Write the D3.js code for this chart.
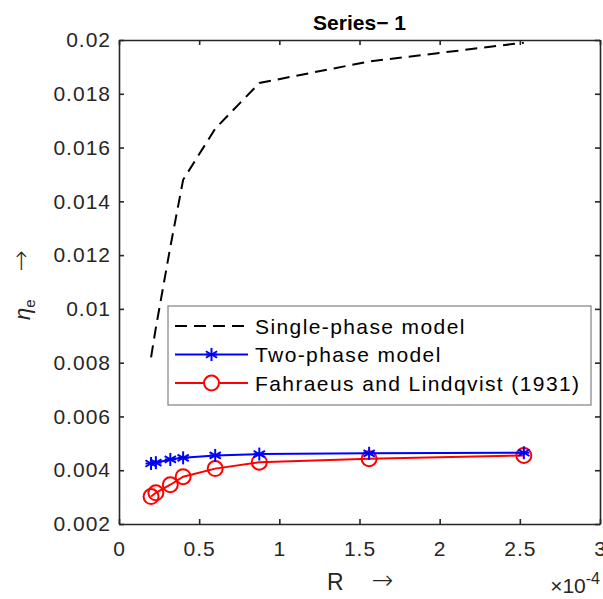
<!DOCTYPE html>
<html>
<head>
    <title>Series- 1</title>
    <script src="https://cdnjs.cloudflare.com/ajax/libs/d3/7.8.5/d3.min.js"></script>
    <style>
        body { margin: 0; background: #fff; }
        .axis text { font-family: "Liberation Sans", Arial, sans-serif; font-size: 21px; fill: #262626; letter-spacing: 1px; }
        .axis path, .axis line { stroke: #262626; stroke-width: 1.6; }
    </style>
</head>
<body>
    <div id="chart"></div>
    <script>
        // radius (x 1e-4)
        const radius = [0.2, 0.23, 0.32, 0.4, 0.6, 0.875, 1.56, 2.525];
        const singlePhase = [0.0082, 0.0093, 0.0123, 0.0148, 0.0167, 0.0184, 0.0192, 0.0199];
        const twoPhase = [0.00425, 0.00428, 0.0044, 0.00446, 0.00455, 0.0046, 0.00463, 0.00465];
        const fahraeus = [0.00302, 0.00316, 0.00346, 0.00376, 0.00406, 0.00430, 0.00443, 0.00455];
        const seriesNames = ['Single-phase model', 'Two-phase model', 'Fahraeus and Lindqvist (1931)'];
        const xTicks = [0, 0.5, 1, 1.5, 2, 2.5, 3];
        const yTicks = [0.002, 0.004, 0.006, 0.008, 0.01, 0.012, 0.014, 0.016, 0.018, 0.02];

        const margin = { top: 40, right: 3, bottom: 75, left: 119 };
        const width = 603 - margin.left - margin.right;
        const height = 599 - margin.top - margin.bottom;
        const font = '"Liberation Sans", Arial, sans-serif';

        const svg = d3.select('#chart')
            .append('svg')
            .attr('width', 603)
            .attr('height', 599)
            .append('g')
            .attr('transform', `translate(${margin.left},${margin.top})`);

        const x = d3.scaleLinear().domain([0, 3]).range([0, width]);
        const y = d3.scaleLinear().domain([0.002, 0.02]).range([height, 0]);

        // axes with inward ticks (box on)
        svg.append('g')
            .attr('class', 'axis')
            .attr('transform', `translate(0,${height})`)
            .call(d3.axisBottom(x).tickValues(xTicks).tickSizeInner(-5).tickSizeOuter(0)
                .tickPadding(17).tickFormat(d3.format('')));
        svg.append('g')
            .attr('class', 'axis')
            .call(d3.axisLeft(y).tickValues(yTicks).tickSizeInner(-5).tickSizeOuter(0)
                .tickPadding(8).tickFormat(d => +d.toFixed(3)));
        svg.append('g')
            .attr('class', 'axis')
            .call(d3.axisTop(x).tickValues(xTicks).tickSizeInner(-5).tickSizeOuter(0).tickFormat(''));
        svg.append('g')
            .attr('class', 'axis')
            .attr('transform', `translate(${width},0)`)
            .call(d3.axisRight(y).tickValues(yTicks).tickSizeInner(-5).tickSizeOuter(0).tickFormat(''));

        const line = d3.line()
            .x((d, i) => x(radius[i]))
            .y(d => y(d));

        // single phase - dashed
        svg.append('path')
            .datum(singlePhase)
            .attr('d', line)
            .attr('fill', 'none')
            .attr('stroke', '#000')
            .attr('stroke-width', 2)
            .attr('stroke-dasharray', '12,7');

        // Fahraeus - red circles
        svg.append('path')
            .datum(fahraeus)
            .attr('d', line)
            .attr('fill', 'none')
            .attr('stroke', '#ff0000')
            .attr('stroke-width', 2);
        svg.selectAll('.circ')
            .data(fahraeus)
            .enter()
            .append('circle')
            .attr('cx', (d, i) => x(radius[i]))
            .attr('cy', d => y(d))
            .attr('r', 7.5)
            .attr('fill', 'none')
            .attr('stroke', '#ff0000')
            .attr('stroke-width', 2);

        // two phase - blue stars
        svg.append('path')
            .datum(twoPhase)
            .attr('d', line)
            .attr('fill', 'none')
            .attr('stroke', '#0000ff')
            .attr('stroke-width', 2);

        function star(g, cx, cy, r, color) {
            const s = g.append('g').attr('transform', `translate(${cx},${cy})`);
            [0, 60, 120].forEach(a => {
                const rad = a * Math.PI / 180;
                s.append('line')
                    .attr('x1', -r * Math.sin(rad)).attr('y1', -r * Math.cos(rad))
                    .attr('x2', r * Math.sin(rad)).attr('y2', r * Math.cos(rad))
                    .attr('stroke', color).attr('stroke-width', 2);
            });
            s.append('line').attr('x1', -r * 0.85).attr('x2', r * 0.85)
                .attr('stroke', color).attr('stroke-width', 2);
        }
        twoPhase.forEach((d, i) => star(svg, x(radius[i]), y(d), 6.5, '#0000ff'));

        // title
        svg.append('text')
            .attr('x', width / 2)
            .attr('y', 30 - margin.top)
            .attr('text-anchor', 'middle')
            .style('font-family', font)
            .style('font-size', '21px')
            .style('font-weight', 'bold')
            .attr('fill', '#000')
            .text('Series\u2212 1');

        // x label
        const xl = svg.append('text')
            .attr('x', 327 - margin.left)
            .attr('y', 590 - margin.top)
            .style('font-family', font)
            .style('font-size', '23px')
            .attr('fill', '#262626');
        xl.append('tspan').text('R');
        xl.append('tspan').attr('dx', 28).attr('dy', -1)
            .style('font-family', '"DejaVu Sans", sans-serif')
            .style('font-size', '26px').style('font-weight', 200).text('\u2192');

        // exponent
        const ex = svg.append('text')
            .attr('x', 600 - margin.left)
            .attr('y', 593 - margin.top)
            .attr('text-anchor', 'end')
            .style('font-family', font)
            .style('font-size', '21px')
            .attr('fill', '#262626');
        ex.append('tspan').text('\u00d710');
        ex.append('tspan').attr('dy', -9).style('font-size', '16px').text('-4');

        // y label
        const yl = svg.append('text')
            .attr('transform', `translate(${30 - margin.left},${320 - margin.top}) rotate(-90)`)
            .attr('text-anchor', 'start')
            .style('font-family', font)
            .style('font-size', '22px')
            .attr('fill', '#262626');
        yl.append('tspan').style('font-style', 'italic').text('\u03b7');
        yl.append('tspan').attr('dy', 5).style('font-size', '15px').text('e');
        yl.append('tspan').attr('dy', -6).attr('dx', 28)
            .style('font-family', '"DejaVu Sans", sans-serif')
            .style('font-size', '25px').style('font-weight', 200).text('\u2192');

        // legend
        const lg = svg.append('g').attr('transform', `translate(${168 - margin.left},${306 - margin.top})`);
        lg.append('rect')
            .attr('width', 423).attr('height', 99)
            .attr('fill', '#fff').attr('stroke', '#808080').attr('stroke-width', 1.2);
        const styles = [
            { color: '#000', dash: '12,7' },
            { color: '#0000ff', dash: null },
            { color: '#ff0000', dash: null }
        ];
        seriesNames.forEach((name, i) => {
            const yy = 20 + i * 28.5;
            lg.append('line')
                .attr('x1', 7).attr('x2', 80).attr('y1', yy).attr('y2', yy)
                .attr('stroke', styles[i].color).attr('stroke-width', 2)
                .attr('stroke-dasharray', styles[i].dash);
            if (i === 1) star(lg, 43.5, yy, 6.5, '#0000ff');
            if (i === 2) lg.append('circle').attr('cx', 43.5).attr('cy', yy).attr('r', 7.5)
                .attr('fill', '#fff').attr('stroke', '#ff0000').attr('stroke-width', 2);
            lg.append('text')
                .attr('x', 87).attr('y', yy + 7.5)
                .style('font-family', font)
                .style('font-size', '21px')
                .style('letter-spacing', '1.4px')
                .attr('fill', '#000')
                .text(name);
        });
    </script>
</body>
</html>
